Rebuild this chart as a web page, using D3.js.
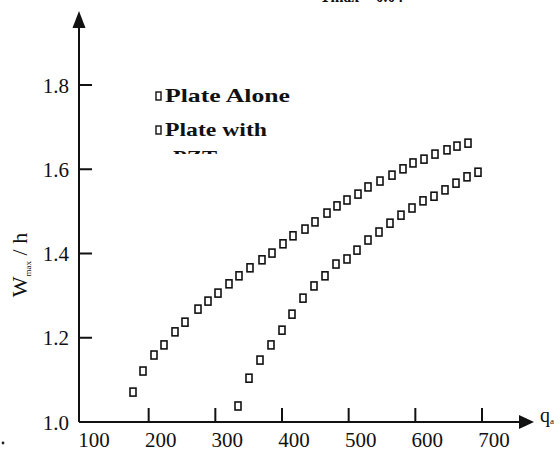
<!DOCTYPE html>
<html lang="en">
<head>
<meta charset="UTF-8">
<title>Wmax/h vs qa</title>
<script src="https://d3js.org/d3.v7.min.js"></script>
<style>
  body { margin: 0; background: #fff; }
  svg { display: block; }
  text { font-family: "Liberation Serif", "Times New Roman", serif; fill: #111; }
</style>
</head>
<body>
<svg id="chart" width="560" height="454"></svg>
<script>
// data
const plateAloneQ = [176.5, 191.5, 208, 223, 239.5, 254.5, 274, 289, 304, 320.5, 335.5, 352, 370, 385, 401.5, 416.5,
                     434.5, 449.5, 467.5, 482.5, 497.5, 514, 529, 547, 565, 581.5, 596.5, 613, 629.5, 647.5, 662.5, 679];
const plateAloneW = [1.071, 1.121, 1.159, 1.183, 1.214, 1.237, 1.268, 1.287, 1.306, 1.328, 1.347, 1.366, 1.385, 1.401, 1.423, 1.442,
                     1.458, 1.475, 1.496, 1.513, 1.527, 1.541, 1.558, 1.572, 1.586, 1.601, 1.615, 1.624, 1.636, 1.646, 1.655, 1.662];
const platePztQ = [334, 350.5, 367, 383.5, 400, 415, 431.5, 448, 464.5, 481, 497.5, 512.5, 529, 545.5, 562, 578.5,
                   595, 611.5, 628, 644.5, 661, 677.5, 694];
const platePztW = [1.038, 1.104, 1.147, 1.183, 1.218, 1.256, 1.294, 1.323, 1.347, 1.375, 1.387, 1.408, 1.432, 1.451, 1.472, 1.491,
                   1.508, 1.525, 1.536, 1.551, 1.567, 1.582, 1.593];
const xTicks = [200, 300, 400, 500, 600, 700];
const xLabels = ["100", "200", "300", "400", "500", "600", "700"];
const yTicks = [1.8, 1.6, 1.4, 1.2];
const yLabels = ["1.0", "1.2", "1.4", "1.6", "1.8"];
const legendNames = ["Plate Alone", "Plate with", "PZT"];

const svg = d3.select("#chart");
const x = d3.scaleLinear().domain([100, 700]).range([82, 482]);
const y = d3.scaleLinear().domain([1.0, 1.8]).range([422, 85]);
const x0 = 79, y0 = 422;

// title, mostly off the top edge like in the scan
svg.append("text")
    .attr("x", 320).attr("y", 2)
    .attr("font-size", 19).attr("font-weight", "bold")
    .attr("textLength", 83).attr("lengthAdjust", "spacingAndGlyphs")
    .text("Tmax = 0.04");

// axes
svg.append("line").attr("x1", x0).attr("y1", y0).attr("x2", x0).attr("y2", 22)
    .attr("stroke", "#111").attr("stroke-width", 2);
svg.append("path").attr("d", `M${x0},11 L${x0 - 6.5},28 L${x0 + 6.5},28 Z`).attr("fill", "#111");
svg.append("line").attr("x1", x0).attr("y1", y0).attr("x2", 522).attr("y2", y0)
    .attr("stroke", "#111").attr("stroke-width", 2);
svg.append("path").attr("d", `M534,${y0} L519,${y0 - 7} L519,${y0 + 7} Z`).attr("fill", "#111");

// y ticks point inward
svg.selectAll("line.ytick").data(yTicks).join("line")
    .attr("class", "ytick")
    .attr("x1", x0).attr("x2", x0 + 13)
    .attr("y1", d => y(d)).attr("y2", d => y(d))
    .attr("stroke", "#111").attr("stroke-width", 2);
svg.selectAll("text.ylab").data(yLabels).join("text")
    .attr("class", "ylab")
    .attr("x", 69).attr("y", d => y(+d))
    .attr("dy", "0.36em")
    .attr("text-anchor", "end")
    .attr("font-size", 21)
    .text(d => d);

// x ticks point up
svg.selectAll("line.xtick").data(xTicks).join("line")
    .attr("class", "xtick")
    .attr("x1", d => x(d)).attr("x2", d => x(d))
    .attr("y1", y0).attr("y2", y0 - 14)
    .attr("stroke", "#111").attr("stroke-width", 2);
svg.selectAll("text.xlab").data(xLabels).join("text")
    .attr("class", "xlab")
    .attr("x", d => x(+d) + 12).attr("y", 447)
    .attr("text-anchor", "middle")
    .attr("font-size", 21)
    .text(d => d);

// axis titles
const yt = svg.append("text")
    .attr("transform", "translate(27,265) rotate(-90)")
    .attr("text-anchor", "middle")
    .attr("font-size", 22);
yt.append("tspan").text("W");
yt.append("tspan").attr("font-size", 9).attr("dy", 4).text("max");
yt.append("tspan").attr("dy", -4).text(" / h");

const xt = svg.append("text").attr("x", 540).attr("y", 422).attr("font-size", 20);
xt.append("tspan").text("q");
xt.append("tspan").attr("font-size", 9).attr("dy", 2).text("a");

// stray scan dot
svg.append("circle").attr("cx", 3).attr("cy", 443).attr("r", 1.4).attr("fill", "#222");

// series markers
function drawSeries(qs, ws) {
    svg.append("g").selectAll("rect").data(qs.map((q, i) => [q, ws[i]])).join("rect")
        .attr("x", d => x(d[0]) - 3).attr("y", d => y(d[1]) - 4)
        .attr("width", 6).attr("height", 8)
        .attr("fill", "none").attr("stroke", "#111").attr("stroke-width", 1.6);
}
drawSeries(plateAloneQ, plateAloneW);
drawSeries(platePztQ, platePztW);

// legend, third line cut off as in the scan
svg.append("clipPath").attr("id", "legclip")
    .append("rect").attr("x", 140).attr("y", 70).attr("width", 200).attr("height", 84);
const leg = svg.append("g").attr("clip-path", "url(#legclip)");
const legY = [102, 136, 164];
const legW = [125, 102, 44];
leg.selectAll("rect").data(legendNames.slice(0, 2)).join("rect")
    .attr("x", 156).attr("y", (d, i) => legY[i] - 10)
    .attr("width", 5).attr("height", 8)
    .attr("fill", "none").attr("stroke", "#111").attr("stroke-width", 1.4);
leg.selectAll("text").data(legendNames).join("text")
    .attr("x", (d, i) => i < 2 ? 165 : 173)
    .attr("y", (d, i) => legY[i])
    .attr("font-size", 19).attr("font-weight", "bold")
    .attr("textLength", (d, i) => legW[i]).attr("lengthAdjust", "spacingAndGlyphs")
    .text(d => d);
</script>
</body>
</html>
